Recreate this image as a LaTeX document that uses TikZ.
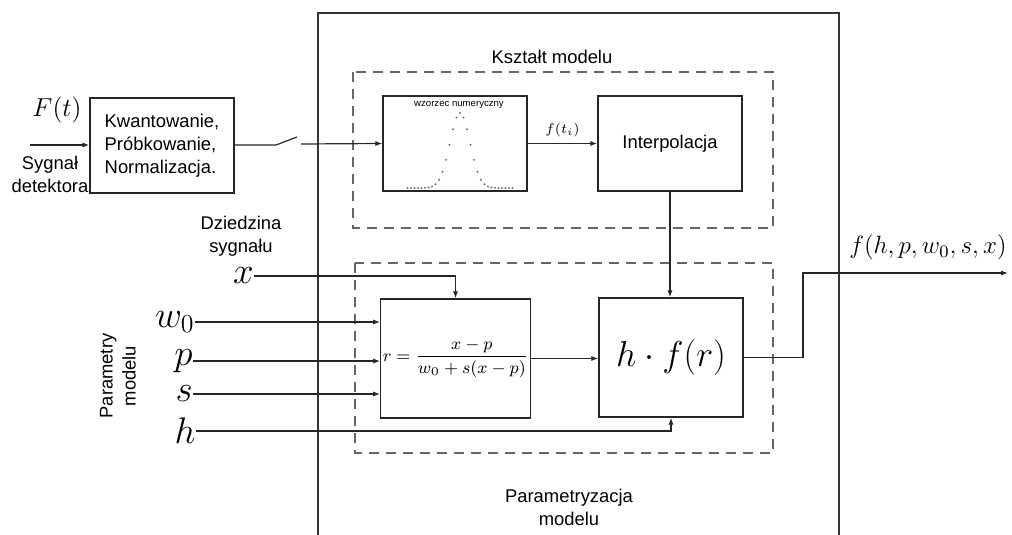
\RequirePackage{fix-cm}
\documentclass[tikz,border=0pt]{standalone}
\usepackage{amsmath}
\usepackage{fontspec}
\setsansfont{Liberation Sans}
\usetikzlibrary{arrows.meta,calc}

\tikzset{
    block/.style={draw=black!85, line width=0.7pt, minimum width=72pt,
        minimum height=47.5pt, inner sep=1pt},
    frame/.style={draw=black!60, line width=0.6pt, dash pattern=on 5pt off 3.5pt},
    sig/.style={draw=black!85, line width=0.6pt},
    arr/.style={sig, -{Latex[length=3.5pt,width=2.6pt]}},
    lbl/.style={font=\sffamily\fontsize{9.2}{10.5}\selectfont, align=center, inner sep=0pt},
    var/.style={font=\fontsize{18.5}{20}\selectfont, inner sep=0pt}
}

\begin{document}
\begin{tikzpicture}[x=0.5pt,y=-0.5pt]
\useasboundingbox (0,0) rectangle (1012,535);

% Outer frame
\draw[black!80, line width=1.2pt] (318,535) -- (318,13) -- (839,13) -- (839,535);

% Dashed groups
\draw[frame] (353,72) rectangle (773,228);
\draw[frame] (355,263) rectangle (773,453);
\node[lbl] (shape) at (552,57) {Kształt modelu};
\node[lbl] (param) at (569,507) {Parametryzacja\\[1pt]modelu};

% Blocks
\node[block, lbl, align=left, minimum width=72pt, minimum height=47.5pt, inner sep=1pt] (kw) at (162,145.5)
    {Kwantowanie,\\[1pt]Próbkowanie,\\[1pt]Normalizacja.};
\node[block] (wz) at (455,143.5) {};
\node[block, lbl, minimum width=72pt, minimum height=47.5pt] (ip) at (670,143.5) {Interpolacja};
\node[block, minimum height=59.5pt, font=\fontsize{8.5}{10}\selectfont] (rb) at (455.5,358.5)
    {$r=\dfrac{x-p}{w_0+s(x-p)}$};
\node[block, minimum height=59.5pt, font=\fontsize{18}{20}\selectfont] (hf) at (671,357.5)
    {$h\cdot f(r)$};

% Sample pattern
\node[font=\sffamily\fontsize{4.8}{5}\selectfont, inner sep=0pt] (wzl) at (459,105) {wzorzec numeryczny};
\foreach \i in {-15,...,15}
    \fill[black!55] ({460+3.5*\i},{188-75*exp(-(3.5*\i)*(3.5*\i)/200)}) circle (1.1);

% Detector input
\coordinate (in) at (30,145);
\draw[arr] (in) -- (kw.west |- in);
\node[var, font=\fontsize{13}{15}\selectfont] (Ft) at (57,110) {$F(t)$};
\node[lbl] (det) at (50,174) {Sygnał\\[1pt]detektora};

% Switch
\coordinate (sw1) at (276,145);
\coordinate (sw2) at (297,137);
\coordinate (sw3) at (301,144);
\draw[sig] (kw.east |- sw1) -- (sw1) -- (sw2);
\draw[arr] (sw3) -- (wz.west);

% Shape path
\draw[arr] (wz.east) -- (ip.west) node[midway, above=3pt, font=\fontsize{7}{8}\selectfont, inner sep=0pt] (fti) {$f(t_i)$};
\draw[arr] (ip.south) -- (ip.south |- hf.north);
\draw[arr] (rb.east) -- (hf.west |- rb.east);

% Signal domain
\node[lbl] (dom) at (241,236) {Dziedzina\\[1pt]sygnału};
\node[var, anchor=east] (lx) at (254,276) {$x$};
\draw[arr] (lx.east) -- (lx.east -| rb.north) -- (rb.north);

% Model parameters
\node[lbl, rotate=90] (pm) at (118,376) {Parametry\\[1pt]modelu};
\node[var, anchor=east] (lw) at (195,322) {$w_0$};
\node[var, anchor=east] (lp) at (193,361) {$p$};
\node[var, anchor=east] (ls) at (193,394) {$s$};
\node[var, anchor=east] (lh) at (196,431) {$h$};
\draw[arr] (lw.east) -- (lw.east -| rb.west);
\draw[arr] (lp.east) -- (lp.east -| rb.west);
\draw[arr] (ls.east) -- (ls.east -| rb.west);
\draw[arr] (lh.east) -- (lh.east -| hf.south) -- (hf.south);

% Output
\coordinate (out) at (1008,273);
\draw[arr] (hf.east) -- (803,357.5) |- (out);
\node[font=\fontsize{12.5}{14}\selectfont, inner sep=0pt] (fout) at (928,247) {$f(h,p,w_0,s,x)$};

\end{tikzpicture}
\end{document}
